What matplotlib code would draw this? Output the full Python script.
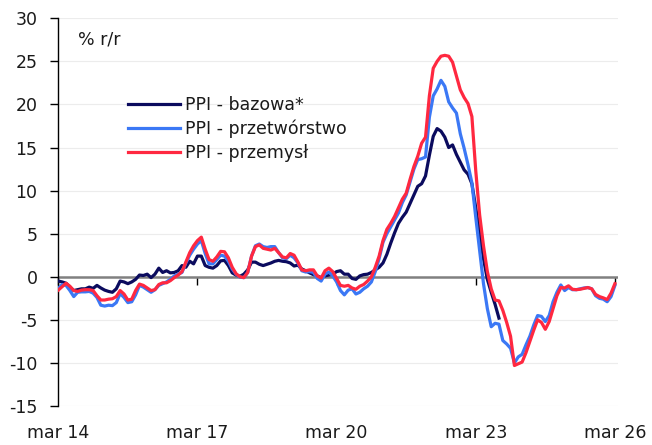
import matplotlib
matplotlib.use("Agg")
import matplotlib.pyplot as plt
import numpy as np

# Monthly data, Mar 2014 onwards (index 0 = mar 14)
core_ppi = [  # PPI - bazowa*
    -0.5, -0.6, -0.75, -1.2, -1.6, -1.5, -1.4, -1.4, -1.2, -1.35,
    -1.0, -1.3, -1.55, -1.7, -1.8, -1.4, -0.5, -0.6, -0.8, -0.6,
    -0.3, 0.2, 0.15, 0.3, -0.1, 0.3, 1.0, 0.5, 0.7, 0.45,
    0.5, 0.7, 1.3, 1.1, 1.8, 1.5, 2.4, 2.4, 1.3, 1.1,
    1.0, 1.3, 1.85, 1.9, 1.3, 0.45, 0.2, 0.05, 0.3, 0.8,
    1.7, 1.7, 1.45, 1.3, 1.45, 1.6, 1.8, 1.9, 1.8, 1.75,
    1.6, 1.25, 1.35, 0.9, 0.7, 0.45, 0.25, 0.1, -0.1, 0.1,
    0.2, 0.3, 0.6, 0.7, 0.3, 0.3, -0.2, -0.3, 0.1, 0.25,
    0.3, 0.5, 0.8, 1.1, 1.6, 2.6, 3.9, 5.1, 6.2, 6.9,
    7.5, 8.5, 9.5, 10.5, 10.8, 11.7, 14.1, 16.3, 17.2, 16.9,
    16.2, 15.0, 15.3, 14.2, 13.3, 12.4, 11.9, 10.8, 8.0, 5.1,
    2.1, -0.3, -1.8, -3.2, -4.8,
]

manuf_ppi = [  # PPI - przetwórstwo
    -1.35, -0.9, -1.0, -1.6, -2.3, -1.8, -1.75, -1.75, -1.7, -1.9,
    -2.4, -3.3, -3.4, -3.3, -3.35, -3.0, -1.95, -2.4, -3.0, -2.9,
    -2.1, -1.0, -1.2, -1.5, -1.8, -1.5, -1.0, -0.8, -0.6, -0.3,
    0.1, 0.3, 0.5, 1.6, 2.5, 3.2, 3.8, 4.2, 2.7, 1.5,
    1.5, 2.0, 2.5, 2.4, 1.8, 0.9, 0.3, -0.05, -0.1, 0.5,
    2.4, 3.6, 3.8, 3.5, 3.4, 3.5, 3.5, 2.8, 2.2, 2.1,
    2.5, 2.2, 1.6, 0.7, 0.55, 0.6, 0.5, -0.2, -0.5, 0.3,
    0.55, 0.1, -0.6, -1.6, -2.1, -1.55, -1.4, -2.0, -1.8, -1.4,
    -1.1, -0.6, 0.6, 2.1, 4.0, 5.0, 5.8, 6.6, 7.4, 8.6,
    9.5, 11.0, 12.5, 13.6, 13.7, 13.9, 18.5, 21.0, 21.8, 22.8,
    22.1, 20.3, 19.6, 19.0, 16.6, 14.9, 13.0, 10.9, 6.9, 3.1,
    -0.8, -3.7, -5.8, -5.4, -5.5, -7.4, -7.8, -8.3, -10.0, -9.3,
    -9.0, -7.9, -6.9, -5.6, -4.5, -4.6, -5.2, -4.5, -2.9, -1.8,
    -0.95, -1.6, -1.25, -1.5, -1.5, -1.4, -1.3, -1.25, -1.4, -2.2,
    -2.5, -2.6, -2.9, -2.3, -1.0,
]

total_ppi = [  # PPI - przemysł
    -1.55, -1.15, -0.75, -1.1, -1.6, -1.7, -1.55, -1.5, -1.5, -1.6,
    -2.2, -2.7, -2.7, -2.6, -2.55, -2.3, -1.6, -2.0, -2.7, -2.6,
    -1.6, -0.85, -1.0, -1.3, -1.6, -1.5, -0.9, -0.7, -0.7, -0.45,
    -0.1, 0.2, 0.6, 1.7, 2.8, 3.6, 4.2, 4.6, 3.2, 2.0,
    1.8, 2.3, 2.95, 2.9, 2.2, 1.1, 0.35, 0.0, -0.1, 0.5,
    2.4, 3.5, 3.7, 3.3, 3.2, 3.1, 3.3, 2.8, 2.3, 2.2,
    2.7, 2.5, 1.7, 0.8, 0.7, 0.8, 0.8, 0.1, -0.15, 0.7,
    1.0, 0.6, -0.2, -1.0, -1.1, -1.0, -1.3, -1.45, -1.1, -0.9,
    -0.5, 0.0, 1.1, 2.4, 4.2, 5.5, 6.2, 7.0, 8.0, 9.0,
    9.7, 11.3, 12.8, 14.0, 15.5, 16.2, 21.0, 24.2, 25.0, 25.6,
    25.7, 25.6, 24.9, 23.3, 21.7, 20.8, 20.1, 18.6, 12.3, 7.2,
    3.6, 0.6, -1.4, -2.7, -2.8, -3.9, -5.3, -6.9, -10.3, -10.1,
    -9.9, -8.8, -7.5, -6.2, -5.0, -5.3, -6.1, -5.2, -3.7, -2.2,
    -1.25, -1.3, -1.05, -1.45, -1.5, -1.45, -1.35, -1.25, -1.4, -2.05,
    -2.3, -2.45, -2.65, -1.9, -0.8,
]

series_labels = ["PPI - bazowa*", "PPI - przetwórstwo", "PPI - przemysł"]
series_colors = ["#0b0b5e", "#3b78f5", "#ff2840"]
x_tick_labels = ["mar 14", "mar 17", "mar 20", "mar 23", "mar 26"]
x_tick_step = 36  # months between labels
y_ticks = list(range(-15, 31, 5))

plt.rcParams["font.family"] = ["DejaVu Sans"]
plt.rcParams["axes.unicode_minus"] = False
FS = 12.5

fig = plt.figure(figsize=(6.52, 4.45), dpi=100)
ax = fig.add_axes([58.3 / 652, (445 - 406) / 445, (618 - 58.3) / 652, (406 - 18.3) / 445])

ax.set_xlim(0, 144.8)
ax.set_ylim(-15, 30)

for vals, lab, col in zip([core_ppi, manuf_ppi, total_ppi], series_labels, series_colors):
    ax.plot(np.arange(len(vals)), vals, color=col, lw=2.3, label=lab,
            solid_joinstyle="round", zorder=3)

# grid and zero line
ax.set_yticks(y_ticks)
ax.yaxis.grid(True, color="#ececec", lw=0.8, zorder=0)
ax.set_axisbelow(True)
ax.axhline(0, color="#808080", lw=1.8, zorder=2)

for s in ["top", "right", "bottom"]:
    ax.spines[s].set_visible(False)
ax.spines["left"].set_color("black")
ax.spines["left"].set_linewidth(1.0)

ax.tick_params(axis="y", direction="out", length=6, width=1, color="black",
               labelsize=FS, pad=9, labelcolor="#1a1a1a")
tick_pos = [i * x_tick_step for i in range(len(x_tick_labels))]
ax.set_xticks(tick_pos)
ax.set_xticklabels(x_tick_labels)
ax.tick_params(axis="x", length=0, labelsize=FS, pad=13, labelcolor="#1a1a1a")

# tick marks on the zero line
sec = ax.secondary_xaxis(15 / 45)
sec.set_xticks(tick_pos)
sec.set_xticklabels([""] * len(tick_pos))
sec.tick_params(axis="x", direction="out", length=6, width=1, color="black")
sec.spines["bottom"].set_visible(False)
sec.spines["top"].set_visible(False)

ax.text(0.035, 0.946, "% r/r", transform=ax.transAxes, fontsize=FS,
        va="center", ha="left", color="#1a1a1a")

leg = ax.legend(loc="center left", bbox_to_anchor=((128 - 58.3) / 559.7, (406 - 129) / 387.7),
                frameon=False, fontsize=FS, handlelength=3.0, handletextpad=0.3,
                labelspacing=0.32, borderpad=0, borderaxespad=0)
for t in leg.get_texts():
    t.set_color("#1a1a1a")

fig.savefig("out.png", dpi=100)
